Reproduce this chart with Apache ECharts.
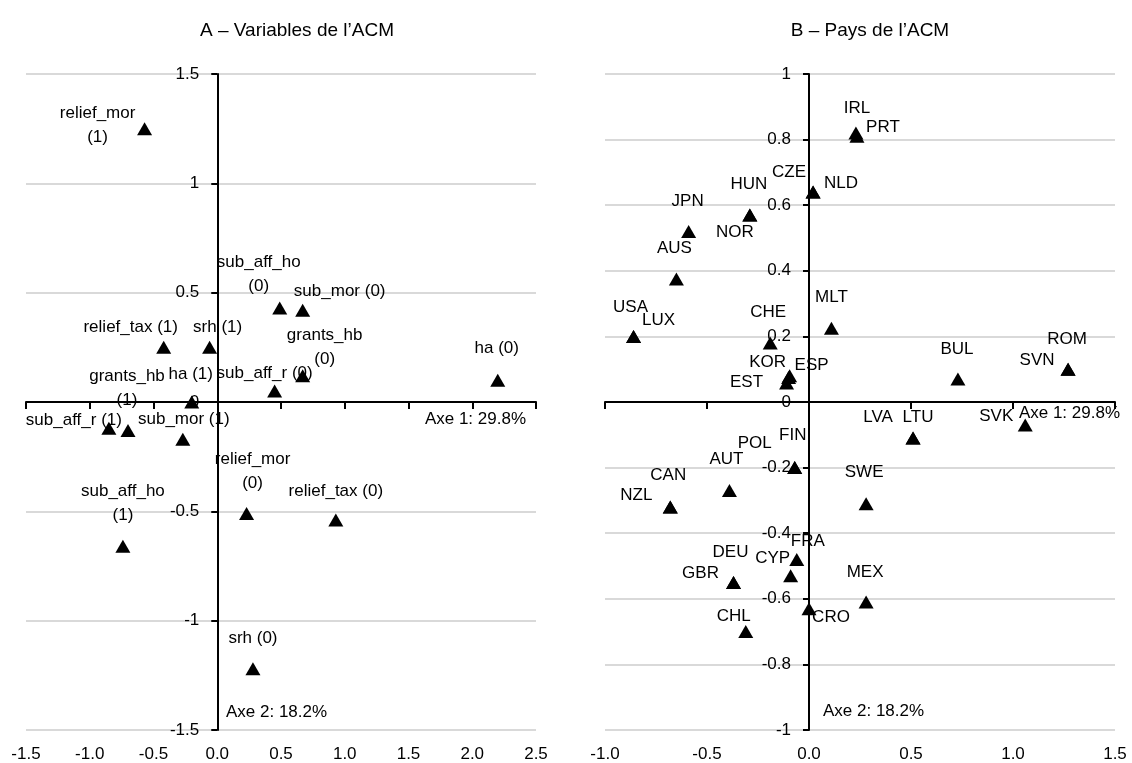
<!DOCTYPE html>
<html>
<head>
<meta charset="utf-8">
<script src="https://cdn.jsdelivr.net/npm/echarts@6/dist/echarts.min.js"></script>
<style>
  html, body { margin: 0; padding: 0; background: #fff; }
  #chart { width: 1132px; height: 763px; }
</style>
</head>
<body>
<div id="chart"></div>
<script>
// A - variables
var varNames = ['relief_mor\n(1)', 'sub_aff_ho\n(0)', 'sub_mor (0)', 'srh (1)', 'relief_tax (1)', 'grants_hb\n(0)',
    'sub_aff_r (0)', 'ha (0)', 'ha (1)', 'grants_hb\n(1)', 'sub_aff_r (1)', 'sub_mor (1)', 'sub_aff_ho\n(1)',
    'relief_mor\n(0)', 'relief_tax (0)', 'srh (0)'];
var varX = [-0.57, 0.49, 0.67, -0.06, -0.42, 0.67, 0.45, 2.20, -0.20, -0.70, -0.85, -0.27, -0.74, 0.23, 0.93, 0.28];
var varY = [1.25, 0.43, 0.42, 0.25, 0.25, 0.12, 0.05, 0.10, 0.00, -0.13, -0.12, -0.17, -0.66, -0.51, -0.54, -1.22];

// B - pays
var paysNames = ['IRL', 'PRT', 'CZE', 'NLD', 'HUN', 'NOR', 'JPN', 'AUS', 'USA', 'LUX', 'CHE', 'MLT', 'KOR', 'ESP', 'EST',
    'BUL', 'ROM', 'SVN', 'LVA', 'LTU', 'SVK', 'FIN', 'POL', 'AUT', 'CAN', 'NZL', 'SWE', 'FRA', 'CYP', 'DEU', 'GBR',
    'CRO', 'MEX', 'CHL'];
var paysX = [0.23, 0.235, 0.02, 0.02, -0.29, -0.29, -0.59, -0.65, -0.86, -0.86, -0.19, 0.11, -0.10, -0.095, -0.11,
    0.73, 1.27, 1.27, 0.51, 0.51, 1.06, -0.07, -0.07, -0.39, -0.68, -0.68, 0.28, -0.06, -0.09, -0.37, -0.37,
    0.0, 0.28, -0.31];
var paysY = [0.82, 0.81, 0.64, 0.64, 0.57, 0.57, 0.52, 0.375, 0.20, 0.20, 0.18, 0.225, 0.075, 0.08, 0.058,
    0.07, 0.10, 0.10, -0.11, -0.11, -0.07, -0.20, -0.20, -0.27, -0.32, -0.32, -0.31, -0.48, -0.53, -0.55, -0.55,
    -0.63, -0.61, -0.70];

// axis ranges: [min, max, interval]
var xTicksA = [-1.5, 2.5, 0.5], yTicksA = [-1.5, 1.5, 0.5];
var xTicksB = [-1, 1.5, 0.5], yTicksB = [-1, 1, 0.2];

// label placement (px from the marker), same order as the names
var varLabelOff = [[-47,-3],[-21,-34],[37,-19],[8,-20],[-33,-20],[22,-28],[-10,-18],[-1,-32],[-1,-28],[-1,-42],
    [-35,-8],[1,-20],[0,-43],[6,-42],[0,-29],[0,-30]];
var paysLabelOff = [[1,-25],[26,-9],[-24,-20],[28,-9],[-1,-31],[-15,17],[-1,-30],[-2,-31],[-3,-29],[25,-16],
    [-2,-31],[0,-31],[-21,-15],[22,-10],[-40,-1],[-1,-30],[-1,-30],[-31,-9],[-35,-21],[5,-21],[-29,-9],
    [-2,-32],[-40,-24],[-3,-31],[-2,-32],[-34,-12],[-2,-31],[11,-18],[-18,-18],[-3,-30],[-33,-9],[22,9],
    [-1,-30],[-12,-15]];

var FONT = "'Liberation Sans', Arial, sans-serif";
var GRID_W = 510;

function points(names, xs, ys, offs) {
    return names.map(function(n, i){
        return {
            name: n,
            value: [xs[i], ys[i]],
            label: { offset: offs[i] }
        };
    });
}

function xAxes(ticks, gridIndex) {
    return [
        {
            type: 'value', gridIndex: gridIndex,
            min: ticks[0], max: ticks[1], interval: ticks[2],
            position: 'bottom',
            axisLine: { show: false, onZero: false },
            axisTick: { show: false },
            splitLine: { show: false },
            axisLabel: {
                margin: 16, color: '#000', fontSize: 17, fontFamily: FONT,
                formatter: function(v){ return v.toFixed(1); }
            }
        },
        {
            type: 'value', gridIndex: gridIndex,
            min: ticks[0], max: ticks[1], interval: ticks[2],
            position: 'top',
            axisLine: { show: true, onZero: true, lineStyle: { color: '#000', width: 2 } },
            axisTick: { show: true, inside: true, length: 7, lineStyle: { color: '#000', width: 2 } },
            splitLine: { show: false },
            axisLabel: { show: false }
        }
    ];
}

// the vertical axis sits where x = 0
function yAxis(ticks, xTicks, gridIndex) {
    var shift = (0 - xTicks[0]) / (xTicks[1] - xTicks[0]) * GRID_W;
    return {
        type: 'value', gridIndex: gridIndex,
        min: ticks[0], max: ticks[1], interval: ticks[2],
        position: 'left',
        offset: -shift,
        axisLine: { show: true, onZero: false, lineStyle: { color: '#000', width: 2 } },
        axisTick: { show: true, length: 6, lineStyle: { color: '#000', width: 2 } },
        splitLine: { show: true, lineStyle: { color: '#d9d9d9', width: 2 } },
        axisLabel: { margin: 18, color: '#000', fontSize: 17, fontFamily: FONT }
    };
}

var labelStyle = {
    show: true,
    position: 'inside',
    formatter: '{b}',
    color: '#000',
    fontSize: 17,
    lineHeight: 24,
    fontFamily: FONT,
    align: 'center',
    verticalAlign: 'middle'
};

var myChart = echarts.init(document.getElementById('chart'));
option = {
    animation: false,
    title: [
        { text: 'A – Variables de l’ACM', left: 292, top: 16, textAlign: 'center',
          textStyle: { fontSize: 19, fontWeight: 'normal', color: '#000', fontFamily: FONT } },
        { text: 'B – Pays de l’ACM', left: 865, top: 16, textAlign: 'center',
          textStyle: { fontSize: 19, fontWeight: 'normal', color: '#000', fontFamily: FONT } }
    ],
    grid: [
        { left: 26, top: 74, width: GRID_W, height: 656, containLabel: false, outerBoundsMode: 'none' },
        { left: 605, top: 74, width: GRID_W, height: 656, containLabel: false, outerBoundsMode: 'none' }
    ],
    xAxis: xAxes(xTicksA, 0).concat(xAxes(xTicksB, 1)),
    yAxis: [yAxis(yTicksA, xTicksA, 0), yAxis(yTicksB, xTicksB, 1)],
    series: [
        {
            name: 'Variables',
            type: 'scatter',
            xAxisIndex: 0, yAxisIndex: 0,
            symbol: 'triangle',
            symbolSize: [15, 13],
            itemStyle: { color: '#000', opacity: 1 },
            label: labelStyle,
            data: points(varNames, varX, varY, varLabelOff)
        },
        {
            name: 'Pays',
            type: 'scatter',
            xAxisIndex: 2, yAxisIndex: 1,
            symbol: 'triangle',
            symbolSize: [15, 13],
            itemStyle: { color: '#000', opacity: 1 },
            label: labelStyle,
            data: points(paysNames, paysX, paysY, paysLabelOff)
        }
    ],
    graphic: [
        { type: 'text', right: 1132 - 526, top: 411, style: { text: 'Axe 1: 29.8%', fill: '#000', font: '17px ' + FONT } },
        { type: 'text', right: 1132 - 1120, top: 405, style: { text: 'Axe 1: 29.8%', fill: '#000', font: '17px ' + FONT } },
        { type: 'text', left: 226, top: 704, style: { text: 'Axe 2: 18.2%', fill: '#000', font: '17px ' + FONT } },
        { type: 'text', left: 823, top: 703, style: { text: 'Axe 2: 18.2%', fill: '#000', font: '17px ' + FONT } }
    ]
};
myChart.setOption(option);
</script>
</body>
</html>
